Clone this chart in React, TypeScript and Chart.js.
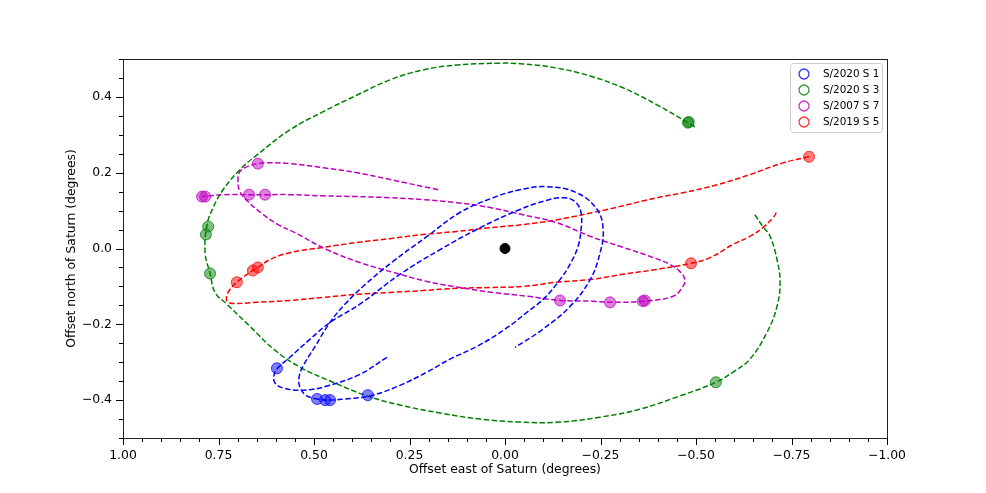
import React, { useEffect, useRef } from 'react';
import { Chart, registerables } from 'chart.js';

Chart.register(...registerables);

// ---------- axis ticks ----------
const xTickValues = [1, 0.75, 0.5, 0.25, 0, -0.25, -0.5, -0.75, -1];
const yTickValues = [-0.4, -0.2, 0, 0.2, 0.4];
const xMinorStep = 0.05;
const yMinorStep = 0.05;

// ---------- legend ----------
const seriesNames = ['S/2020 S 1', 'S/2020 S 3', 'S/2007 S 7', 'S/2019 S 5'];
const seriesRgb = ['0,0,255', '0,128,0', '191,0,191', '255,0,0'];

// ---------- S/2020 S 1 (blue) ----------
const s1PathX = [0.309, 0.380, 0.466, 0.529, 0.581, 0.602, 0.605, 0.597, 0.563, 0.510, 0.458, 0.380, 0.275, 0.170, 0.065, -0.039, -0.105, -0.152, -0.183, -0.199, -0.199, -0.191, -0.170, -0.144, -0.105, -0.058, 0.000, 0.073, 0.144, 0.204, 0.275, 0.353, 0.419, 0.458, 0.492, 0.521, 0.537, 0.539, 0.529, 0.497, 0.458, 0.419, 0.366, 0.293, 0.204, 0.118, 0.031, -0.039, -0.110, -0.188, -0.241, -0.257, -0.249, -0.223, -0.170, -0.099, -0.026];
const s1PathY = [-0.287, -0.332, -0.363, -0.374, -0.368, -0.355, -0.337, -0.318, -0.287, -0.239, -0.195, -0.147, -0.068, -0.003, 0.055, 0.103, 0.126, 0.134, 0.124, 0.095, 0.050, 0.005, -0.042, -0.082, -0.129, -0.168, -0.213, -0.258, -0.292, -0.326, -0.361, -0.389, -0.397, -0.400, -0.397, -0.387, -0.366, -0.339, -0.311, -0.258, -0.195, -0.147, -0.095, -0.034, 0.032, 0.095, 0.134, 0.155, 0.163, 0.147, 0.103, 0.050, -0.011, -0.082, -0.153, -0.213, -0.261];
const s1ObsX = [0.597, 0.492, 0.471, 0.458, 0.359];
const s1ObsY = [-0.316, -0.397, -0.400, -0.400, -0.387];

// ---------- S/2020 S 3 (green) ----------
const s3PathX = [-0.497, -0.479, -0.398, -0.309, -0.223, -0.136, -0.047, 0.013, 0.126, 0.215, 0.301, 0.387, 0.476, 0.563, 0.649, 0.694, 0.738, 0.764, 0.780, 0.785, 0.772, 0.759, 0.728, 0.668, 0.605, 0.537, 0.450, 0.361, 0.275, 0.170, 0.065, -0.039, -0.144, -0.249, -0.353, -0.458, -0.552, -0.597, -0.641, -0.686, -0.712, -0.720, -0.712, -0.694, -0.675, -0.654];
const s3PathY = [0.321, 0.332, 0.379, 0.424, 0.455, 0.476, 0.487, 0.489, 0.484, 0.471, 0.445, 0.405, 0.361, 0.313, 0.247, 0.208, 0.155, 0.108, 0.063, -0.011, -0.066, -0.116, -0.147, -0.205, -0.266, -0.313, -0.353, -0.389, -0.413, -0.434, -0.450, -0.458, -0.458, -0.445, -0.424, -0.389, -0.353, -0.326, -0.292, -0.221, -0.153, -0.089, -0.029, 0.032, 0.058, 0.089];
const s3ObsX = [-0.479, -0.481, 0.777, 0.783, 0.772, -0.552];
const s3ObsY = [0.332, 0.334, 0.058, 0.037, -0.066, -0.353];

// ---------- S/2007 S 7 (magenta) ----------
const s7PathX = [0.175, 0.301, 0.387, 0.476, 0.563, 0.623, 0.647, 0.675, 0.694, 0.699, 0.694, 0.673, 0.636, 0.594, 0.550, 0.466, 0.380, 0.293, 0.204, 0.118, 0.031, -0.058, -0.144, -0.230, -0.275, -0.364, -0.440, -0.466, -0.471, -0.458, -0.432, -0.380, -0.309, -0.223, -0.136, -0.047, 0.039, 0.126, 0.215, 0.301, 0.387, 0.476, 0.563, 0.628, 0.670, 0.738, 0.793];
const s7PathY = [0.155, 0.182, 0.200, 0.213, 0.224, 0.226, 0.224, 0.216, 0.203, 0.182, 0.150, 0.124, 0.092, 0.063, 0.042, -0.003, -0.037, -0.063, -0.087, -0.103, -0.116, -0.126, -0.137, -0.139, -0.142, -0.139, -0.126, -0.100, -0.082, -0.061, -0.042, -0.021, 0.003, 0.032, 0.068, 0.089, 0.108, 0.121, 0.129, 0.134, 0.137, 0.139, 0.142, 0.142, 0.142, 0.142, 0.137];
const s7ObsX = [0.647, 0.793, 0.785, 0.670, 0.628, -0.144, -0.275, -0.361, -0.366];
const s7ObsY = [0.224, 0.137, 0.137, 0.142, 0.142, -0.137, -0.142, -0.139, -0.137];

// ---------- S/2019 S 5 (red) ----------
const s5PathX = [-0.796, -0.728, -0.641, -0.555, -0.466, -0.398, -0.267, -0.136, -0.047, 0.039, 0.126, 0.215, 0.301, 0.387, 0.476, 0.563, 0.615, 0.647, 0.660, 0.702, 0.725, 0.728, 0.712, 0.649, 0.563, 0.476, 0.387, 0.301, 0.215, 0.126, 0.039, -0.047, -0.136, -0.223, -0.309, -0.398, -0.487, -0.537, -0.597, -0.641, -0.675, -0.702, -0.709, -0.707];
const s5PathY = [0.242, 0.226, 0.195, 0.168, 0.147, 0.134, 0.103, 0.076, 0.063, 0.055, 0.045, 0.037, 0.026, 0.016, 0.003, -0.011, -0.029, -0.050, -0.058, -0.089, -0.116, -0.139, -0.145, -0.142, -0.137, -0.129, -0.121, -0.116, -0.111, -0.105, -0.103, -0.100, -0.089, -0.082, -0.068, -0.055, -0.039, -0.024, 0.011, 0.032, 0.055, 0.082, 0.092, 0.097];
const s5ObsX = [-0.796, -0.487, 0.647, 0.660, 0.702];
const s5ObsY = [0.242, -0.039, -0.050, -0.058, -0.089];

// ---------- Saturn ----------
const saturnX = [0];
const saturnY = [0];

const FONT = 'DejaVu Sans';

function pts(xs: number[], ys: number[]) {
  return xs.map((x, i) => ({ x, y: ys[i] }));
}

function fmt(v: number, d: number) {
  const s = Math.abs(v).toFixed(d);
  return v < -1e-9 ? '\u2212' + s : s;
}

function pathDataset(xs: number[], ys: number[], rgb: string) {
  return {
    data: pts(xs, ys),
    showLine: true,
    borderColor: `rgb(${rgb})`,
    borderWidth: 1.5,
    borderDash: [5.5, 2.5],
    pointRadius: 0,
    pointHoverRadius: 0,
    tension: 0.4,
    fill: false,
    order: 3,
  };
}

function obsDataset(xs: number[], ys: number[], rgb: string) {
  return {
    data: pts(xs, ys),
    showLine: false,
    backgroundColor: `rgba(${rgb},0.5)`,
    borderColor: `rgba(${rgb},0.75)`,
    borderWidth: 1,
    pointRadius: 5.5,
    pointHoverRadius: 5.5,
    order: 2,
  };
}

const mplPlugin = {
  id: 'mplAxes',
  afterDraw(chart: any) {
    const { ctx, chartArea: a, scales } = chart;
    const xs = scales.x;
    const ys = scales.y;
    ctx.save();
    ctx.strokeStyle = '#000';
    ctx.lineWidth = 1;
    // x ticks
    const nx = Math.round(2 / xMinorStep);
    for (let i = 0; i <= nx; i++) {
      const v = -1 + i * xMinorStep;
      const px = Math.round(xs.getPixelForValue(v)) + 0.5;
      const major = i % 5 === 0;
      ctx.beginPath();
      ctx.moveTo(px, a.bottom);
      ctx.lineTo(px, a.bottom + (major ? 7 : 4));
      ctx.stroke();
    }
    // y ticks
    const ny = Math.round(1 / yMinorStep);
    for (let i = 0; i <= ny; i++) {
      const v = -0.5 + i * yMinorStep;
      const py = Math.round(ys.getPixelForValue(v)) + 0.5;
      const major = (i - 2) % 4 === 0;
      ctx.beginPath();
      ctx.moveTo(a.left, py);
      ctx.lineTo(a.left - (major ? 7 : 4), py);
      ctx.stroke();
    }
    // frame
    ctx.strokeStyle = '#222';
    ctx.strokeRect(Math.round(a.left) + 0.5, Math.round(a.top) + 0.5, Math.round(a.right - a.left), Math.round(a.bottom - a.top));

    // legend
    const lx = a.right - 97;
    const ly = a.top + 4;
    const lw = 92;
    const lh = 69;
    ctx.beginPath();
    if ((ctx as any).roundRect) (ctx as any).roundRect(lx + 0.5, ly + 0.5, lw, lh, 3);
    else ctx.rect(lx + 0.5, ly + 0.5, lw, lh);
    ctx.fillStyle = 'rgba(255,255,255,0.8)';
    ctx.fill();
    ctx.strokeStyle = '#cccccc';
    ctx.lineWidth = 1;
    ctx.stroke();
    ctx.font = `10.4px "${FONT}"`;
    ctx.textBaseline = 'middle';
    ctx.textAlign = 'left';
    seriesNames.forEach((name, i) => {
      const cy = ly + 11 + i * 16;
      ctx.beginPath();
      ctx.arc(lx + 14, cy, 5, 0, Math.PI * 2);
      ctx.strokeStyle = `rgba(${seriesRgb[i]},0.8)`;
      ctx.lineWidth = 1.3;
      ctx.stroke();
      ctx.fillStyle = '#000';
      ctx.fillText(name, lx + 33, cy);
    });
    ctx.restore();
  },
};

export default function App() {
  const ref = useRef<HTMLCanvasElement | null>(null);
  useEffect(() => {
    document.body.style.margin = '0';
    const canvas = ref.current;
    if (!canvas) return;
    const tickFont = { family: FONT, size: 12.4 };
    const chart = new Chart(canvas, {
      type: 'scatter',
      data: {
        datasets: [
          {
            data: pts(saturnX, saturnY),
            backgroundColor: '#000',
            borderColor: '#000',
            pointRadius: 5,
            pointHoverRadius: 5,
            order: 1,
          } as any,
          obsDataset(s1ObsX, s1ObsY, seriesRgb[0]),
          obsDataset(s3ObsX, s3ObsY, seriesRgb[1]),
          obsDataset(s7ObsX, s7ObsY, seriesRgb[2]),
          obsDataset(s5ObsX, s5ObsY, seriesRgb[3]),
          pathDataset(s1PathX, s1PathY, seriesRgb[0]),
          pathDataset(s3PathX, s3PathY, seriesRgb[1]),
          pathDataset(s7PathX, s7PathY, seriesRgb[2]),
          pathDataset(s5PathX, s5PathY, seriesRgb[3]),
        ],
      },
      options: {
        responsive: false,
        animation: false,
        devicePixelRatio: 1,
        layout: { padding: { top: 59, right: 99, left: 0, bottom: 0 } },
        plugins: { legend: { display: false }, tooltip: { enabled: false } },
        scales: {
          x: {
            type: 'linear',
            min: -1,
            max: 1,
            reverse: true,
            grid: { display: false, drawTicks: false },
            border: { display: false },
            ticks: {
              font: tickFont,
              color: '#000',
              padding: 10.5,
              maxRotation: 0,
              autoSkip: false,
              callback: (v: any) => fmt(Number(v), 2),
            },
            afterBuildTicks: (s: any) => {
              s.ticks = xTickValues.map((v) => ({ value: v }));
            },
            afterFit: (s: any) => {
              s.height = 55;
            },
            title: {
              display: true,
              text: 'Offset east of Saturn (degrees)',
              font: tickFont,
              color: '#000',
              padding: { top: 0, bottom: 15.6 },
            },
          },
          y: {
            type: 'linear',
            min: -0.5,
            max: 0.5,
            grid: { display: false, drawTicks: false },
            border: { display: false },
            ticks: {
              font: tickFont,
              color: '#000',
              padding: 11,
              autoSkip: false,
              callback: (v: any) => fmt(Number(v), 1),
            },
            afterBuildTicks: (s: any) => {
              s.ticks = yTickValues.map((v) => ({ value: v }));
            },
            afterFit: (s: any) => {
              s.width = 123;
            },
            title: {
              display: true,
              text: 'Offset north of Saturn (degrees)',
              font: tickFont,
              color: '#000',
              padding: { top: 64.6, bottom: 0 },
            },
          },
        },
      } as any,
      plugins: [mplPlugin],
    });
    return () => chart.destroy();
  }, []);
  return (
    <div style={{ position: 'fixed', left: 0, top: 0, width: 986, height: 493, background: '#fff' }}>
      <canvas ref={ref} width={986} height={493} style={{ display: 'block' }} />
    </div>
  );
}
